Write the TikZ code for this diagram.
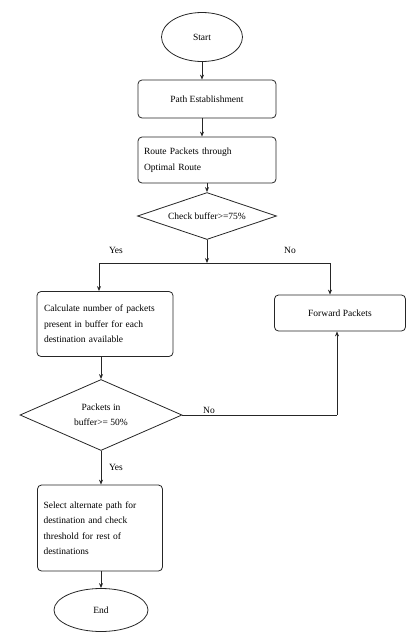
\documentclass[tikz,border=0pt]{standalone}
\usepackage{fontspec}
\setmainfont{Liberation Serif}
\usetikzlibrary{shapes.geometric,arrows.meta}

\tikzset{
  flow/.style={draw=black!85, line width=0.8pt, -{Stealth[length=5pt,width=4pt]}},
  plain/.style={draw=black!85, line width=0.8pt},
  procbox/.style={draw=black!85, line width=0.8pt, rounded corners=4pt, font=\fontsize{9.5}{15.5}\selectfont},
  termbox/.style={draw=black!85, line width=0.8pt, ellipse, inner sep=0pt, font=\fontsize{9.5}{12}\selectfont},
  decbox/.style={draw=black!85, line width=0.8pt, diamond, inner sep=0pt, align=center, font=\fontsize{9.5}{15.5}\selectfont},
  lbl/.style={font=\fontsize{9.5}{12}\selectfont}
}

\begin{document}
\begin{tikzpicture}[x=1pt,y=1pt,yscale=-1,xscale=1]
\path[use as bounding box] (0,0) rectangle (406,633);

%Shape: Ellipse [start]
\node[termbox, minimum width=81, minimum height=49] (start) at (202,37) {Start};
%Shape: Rectangle [path]
\node[procbox, minimum width=138, minimum height=38] (pathest) at (207,99) {Path Establishment};
%Shape: Rectangle [route]
\node[procbox, minimum width=138, minimum height=46, text width=126, align=left] (route) at (207,160) {Route Packets through\\Optimal Route};
%Shape: Diamond [check]
\node[decbox, shape aspect=3, minimum width=139, minimum height=47] (check) at (207,216) {Check buffer>=75\%};

%Split point
\coordinate (split) at (207,263);
\coordinate (splitl) at (99,263);
\coordinate (splitr) at (330,263);

%Shape: Rectangle [calc]
\node[procbox, minimum width=136, minimum height=65, text width=122, align=left] (calc) at (105,324) {Calculate number of packets\\present in buffer for each\\destination available};
%Shape: Rectangle [forward]
\node[procbox, minimum width=131, minimum height=36] (fwd) at (340,313) {Forward Packets};
%Shape: Diamond [packets]
\node[decbox, shape aspect=2.3, minimum width=162, minimum height=71] (pkt) at (101,415) {Packets in\\buffer>= 50\%};
\coordinate (pktno) at (337,415);
%Shape: Rectangle [select]
\node[procbox, minimum width=125, minimum height=86, text width=113, align=left] (sel) at (100,528) {Select alternate path for\\destination and check\\threshold for rest of\\destinations};
%Shape: Ellipse [end]
\node[termbox, minimum width=94, minimum height=43] (stop) at (101,610) {End};

%Straight Lines
\draw[flow] (start.south) -- (start.south |- pathest.north);
\draw[flow] (start.south |- pathest.south) -- (start.south |- route.north);
\draw[flow] (route.south -| check.north) -- (check.north);
\draw[flow] (check.south) -- (split);
\draw[plain] (splitl) -- (splitr);
\draw[flow] (splitl) -- (splitl |- calc.north);
\draw[flow] (splitr) -- (splitr |- fwd.north);
\draw[flow] (pkt.north |- calc.south) -- (pkt.north);
\draw[plain] (pkt.east) -- (pktno);
\draw[flow] (pktno) -- (pktno |- fwd.south);
\draw[flow] (pkt.south) -- (pkt.south |- sel.north);
\draw[flow] (sel.south -| stop.north) -- (stop.north);

% Text Node
\node[lbl] (yes1) at (116,250) {Yes};
% Text Node
\node[lbl] (no1) at (290,250) {No};
% Text Node
\node[lbl] (no2) at (209,410) {No};
% Text Node
\node[lbl] (yes2) at (116,467) {Yes};

\end{tikzpicture}
\end{document}
